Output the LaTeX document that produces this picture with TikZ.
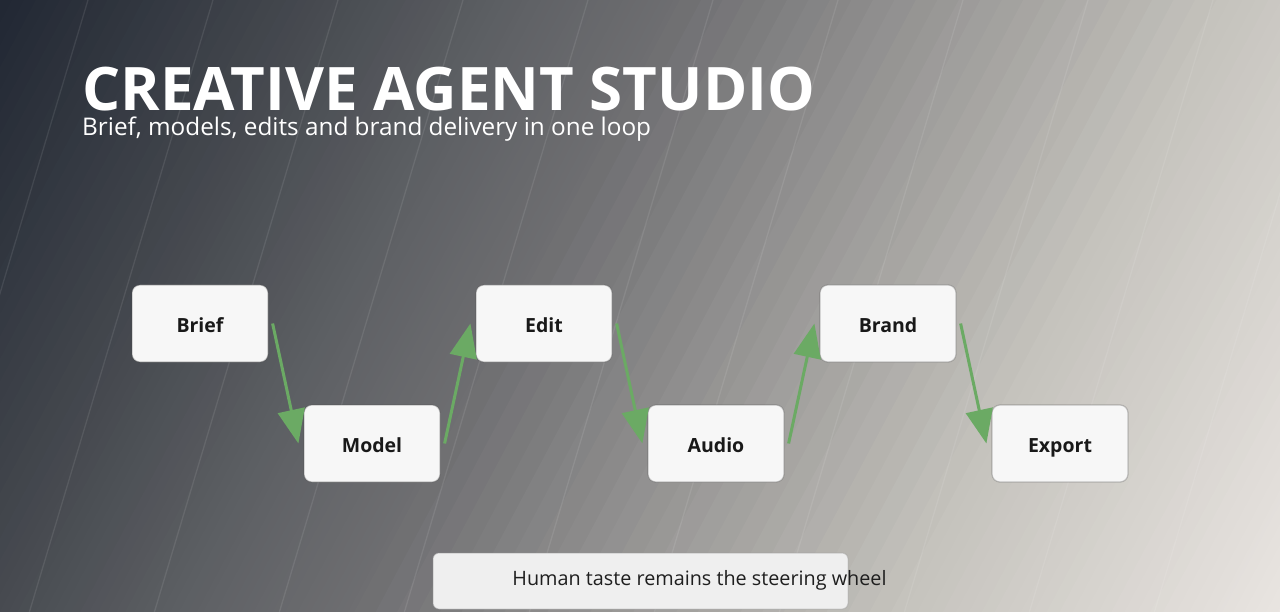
\documentclass[tikz,border=0pt]{standalone}
\usepackage{fontspec}
\setmainfont{Open Sans}
\usetikzlibrary{arrows.meta}
\definecolor{c0}{HTML}{212733}
\definecolor{c1}{HTML}{44484E}
\definecolor{c2}{HTML}{5F6165}
\definecolor{c3}{HTML}{6E6E71}
\definecolor{c4}{HTML}{C4C2BC}
\definecolor{c5}{HTML}{E3DFDB}
\definecolor{c6}{HTML}{EBE7E3}
\definecolor{boxfill}{HTML}{F7F7F7}
\definecolor{notefill}{HTML}{EFEFEF}
\definecolor{flowgreen}{HTML}{6BAA64}
\tikzset{
  stepbox/.style={rectangle, rounded corners=8pt, fill=boxfill, draw=black!70, draw opacity=0.3, line width=1.2pt,
    minimum width=136pt, minimum height=77pt, inner sep=0pt, text height=18pt, text depth=0pt,
    font=\bfseries\fontsize{19.5}{19.5}\selectfont, text=black!90},
  flow/.style={draw=flowgreen, line width=3pt, -{Triangle[length=34pt,width=27pt]}},
  streak/.style={white, opacity=0.09, line width=1.3pt},
}
\newcommand{\bgseg}[4]{% d_a, d_b, colA, colB
  \foreach \t in {0,...,24}{%
    \pgfmathsetmacro\pa{#1+(#2-#1)*\t/25}%
    \pgfmathsetmacro\pb{#1+(#2-#1)*(\t+1)/25+1}%
    \pgfmathsetmacro\mixp{100-100*(\t+0.5)/25}%
    \fill[#3!\mixp!#4] (\pa,-900) rectangle (\pb,900);
  }}
\begin{document}
\begin{tikzpicture}[x=1pt,y=-1pt]
\useasboundingbox (0,0) rectangle (1280,612);
\begin{scope}
  \clip (0,0) rectangle (1280,612);
  \begin{scope}[rotate=-28]
    \bgseg{-20}{0}{c0}{c0}
    \bgseg{0}{263}{c0}{c1}
    \bgseg{263}{461}{c1}{c2}
    \bgseg{461}{600}{c2}{c3}
    \bgseg{600}{1074}{c3}{c4}
    \bgseg{1074}{1360}{c4}{c5}
    \bgseg{1360}{1440}{c5}{c6}
  \end{scope}
  \foreach \k in {-3,...,12}{
    \draw[streak] (88+125*\k,0) -- (88+125*\k-0.3*612,612);
  }
\end{scope}

\node[anchor=base west, inner sep=0pt, text=white, font=\bfseries\fontsize{60}{60}\selectfont] (title) at (82,111) {CREATIVE AGENT STUDIO};
\node[anchor=base west, inner sep=0pt, text=white, font=\fontsize{24.3}{24.3}\selectfont] (subtitle) at (82,136) {Brief, models, edits and brand delivery in one loop};

\node[stepbox] (brief)  at (200,323.5)  {Brief};
\node[stepbox] (model)  at (372,443.5)  {Model};
\node[stepbox] (edit)   at (544,323.5)  {Edit};
\node[stepbox] (audio)  at (716,443.5)  {Audio};
\node[stepbox] (brand)  at (888,323.5)  {Brand};
\node[stepbox] (export) at (1060,443.5) {Export};

\draw[flow] ([xshift=4pt]brief.east) -- ([xshift=-5pt]model.west);
\draw[flow] ([xshift=4pt]model.east) -- ([xshift=-5pt]edit.west);
\draw[flow] ([xshift=4pt]edit.east) -- ([xshift=-5pt]audio.west);
\draw[flow] ([xshift=4pt]audio.east) -- ([xshift=-5pt]brand.west);
\draw[flow] ([xshift=4pt]brand.east) -- ([xshift=-5pt]export.west);

\node[rectangle, rounded corners=6pt, fill=notefill, draw=black!40, draw opacity=0.4, line width=1pt,
      minimum width=415pt, minimum height=56pt, inner sep=0pt] (note) at (640.5,581) {};
\node[inner sep=0pt, text=black!88, font=\fontsize{19.8}{19.8}\selectfont] (notetext) at (699.5,580) {Human taste remains the steering wheel};
\end{tikzpicture}
\end{document}
